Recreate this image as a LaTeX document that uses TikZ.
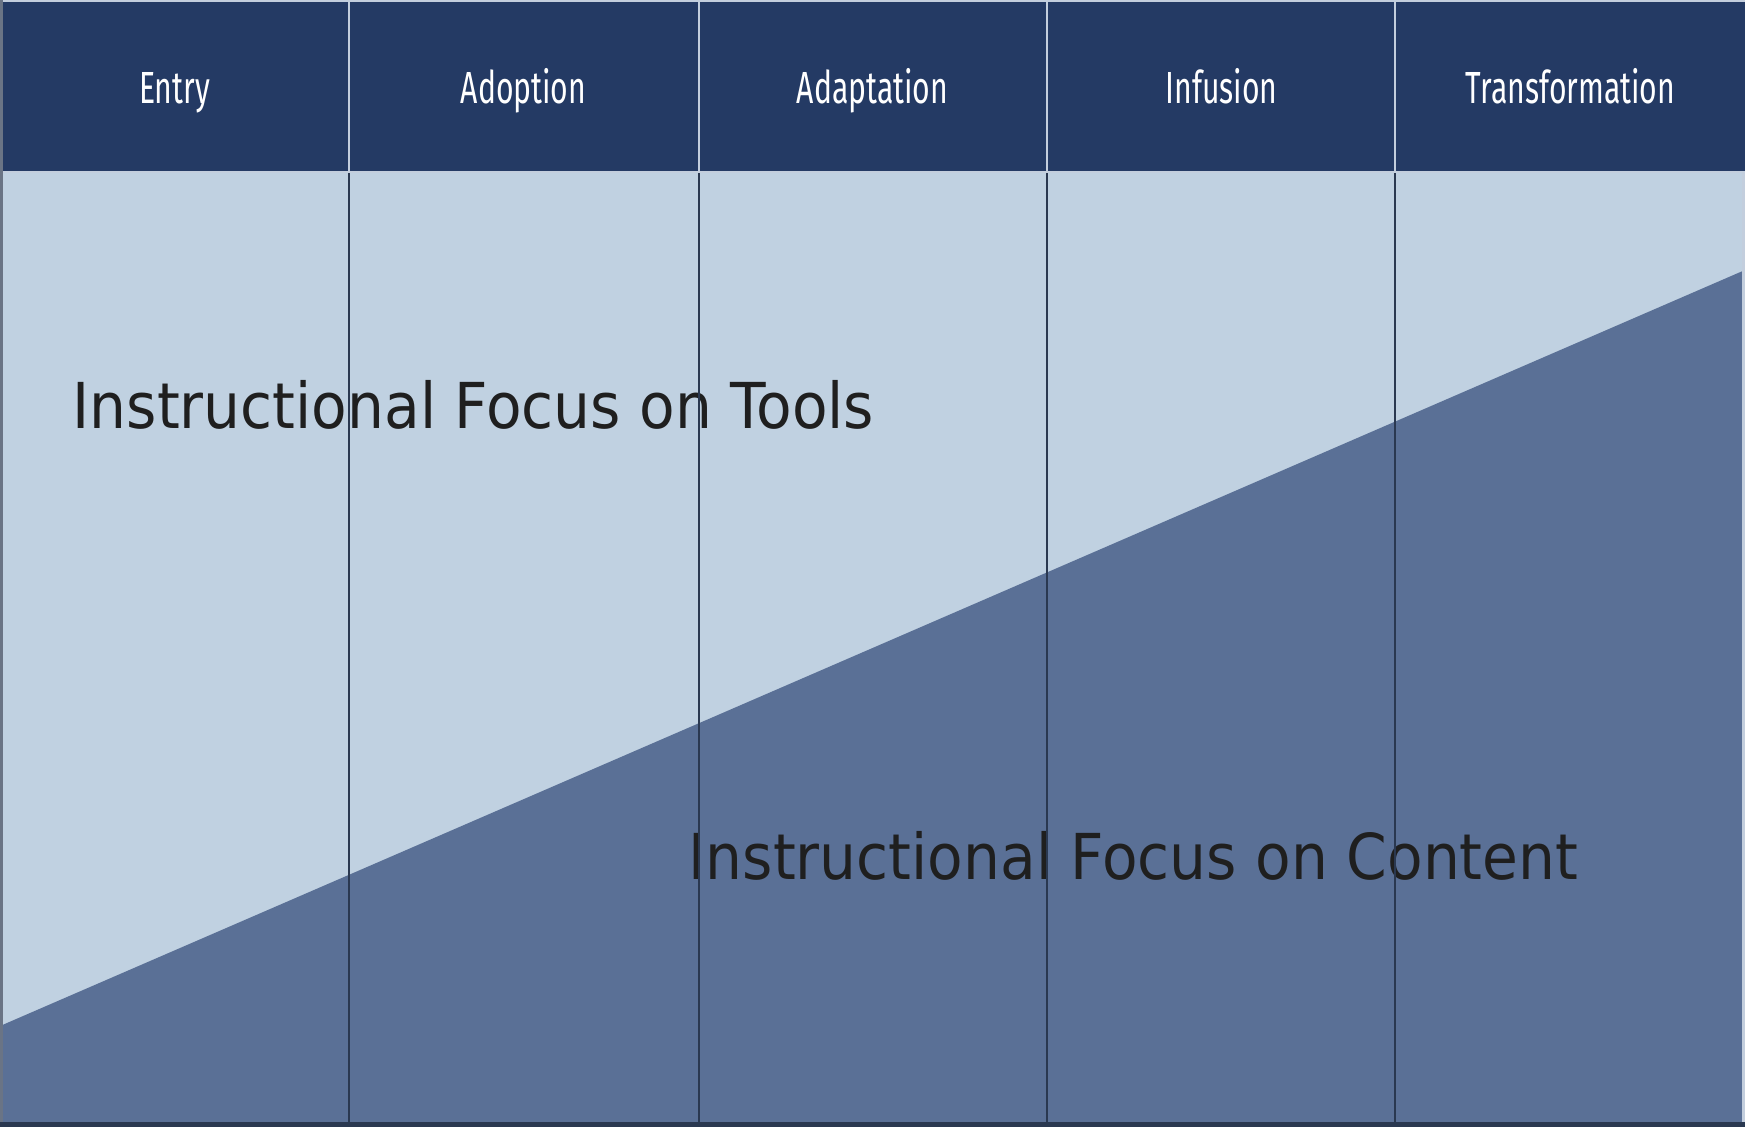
\documentclass[tikz,border=0pt]{standalone}
\usepackage{fontspec}
\setmainfont[FakeStretch=0.92]{DejaVu Sans}
\newfontfamily\headfont[FakeStretch=0.67]{Fira Sans}

\definecolor{navy}{HTML}{243A64}
\definecolor{paleblue}{HTML}{C0D1E1}
\definecolor{slateblue}{HTML}{5A7096}
\definecolor{rulelight}{HTML}{C3CEDD}
\definecolor{ruledark}{HTML}{2A3850}

\tikzset{
    head/.style={font=\headfont\fontsize{12.8}{15}\selectfont, text=white, anchor=base},
    focus/.style={font=\fontsize{18}{22}\selectfont, text=black!88, anchor=base west, inner sep=0pt},
    headrule/.style={rulelight, line width=0.6pt},
    colrule/.style={ruledark, line width=0.8pt}
}

\begin{document}
\begin{tikzpicture}[x=0.01cm, y=-0.01cm]
    \useasboundingbox (0,0) rectangle (1745,1126);
    % stages and the two areas
    \fill[paleblue] (0,172) rectangle (1745,1126);
    \fill[slateblue] (0,1026) -- (1745,270) -- (1745,1126) -- (0,1126) -- cycle;
    \fill[navy] (0,0) rectangle (1745,172);
    \foreach \i/\stage in {1/Entry, 2/Adoption, 3/Adaptation, 4/Infusion, 5/Transformation}
        \node[head] (stage\i) at ({349*\i-174.5},103) {\stage};
    \node[focus] (tools) at (72,428) {Instructional Focus on Tools};
    \node[focus] (content) at (688,879) {Instructional Focus on Content};
    % column rules
    \foreach \x in {349,699,1047,1395} {
        \draw[headrule] (\x,0) -- (\x,172);
        \draw[colrule] (\x,172) -- (\x,1126);
    }
    \draw[headrule] (0,172) -- (1745,172);
    \draw[headrule] (0,0.5) -- (1745,0.5);
    \draw[rulelight, line width=1pt] (1744,172) -- (1744,1126);
    \draw[ruledark!70!white, line width=1.2pt] (0.5,0) -- (0.5,1126);
    \draw[ruledark, line width=1.4pt] (0,1124.5) -- (1745,1124.5);
\end{tikzpicture}
\end{document}
